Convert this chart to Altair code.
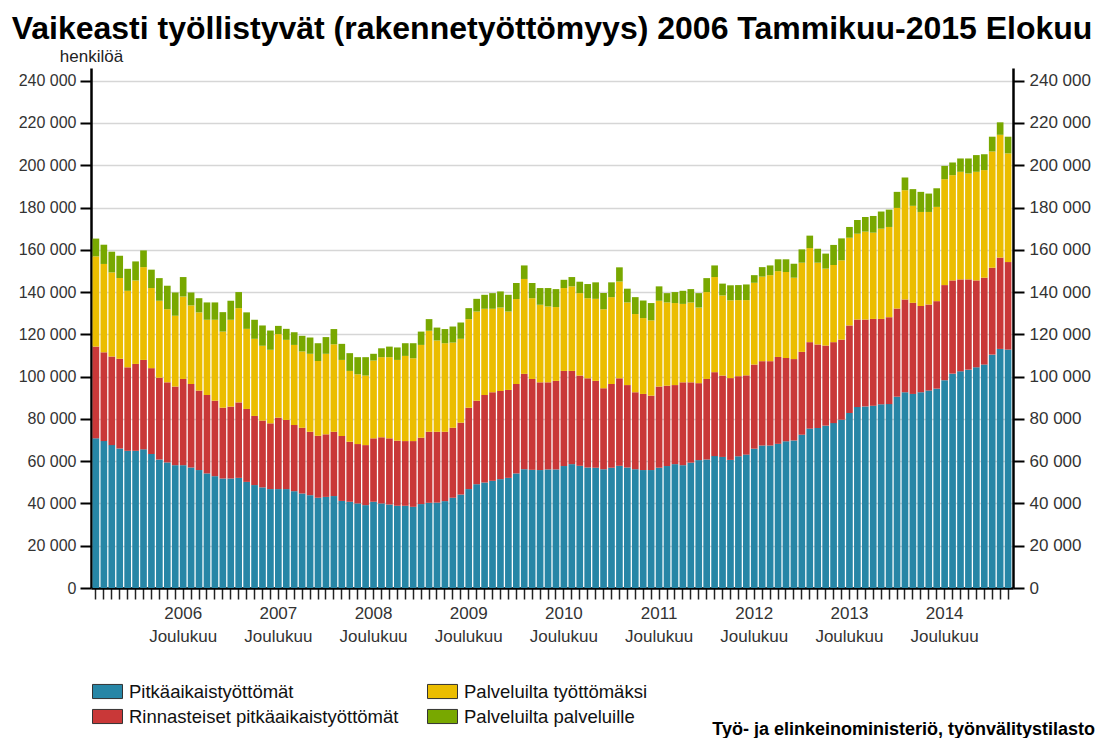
import altair as alt
import pandas as pd

title_text = "Vaikeasti työllistyvät (rakennetyöttömyys) 2006 Tammikuu-2015 Elokuu"
source_text = "Työ- ja elinkeinoministeriö, työnvälitystilasto"
y_unit = "henkilöä"
month_label = "Joulukuu"
start_year = 2006

series_names = ["Pitkäaikaistyöttömät", "Rinnasteiset pitkäaikaistyöttömät",
                "Palveluilta työttömäksi", "Palveluilta palveluille"]
series_colors = ["#2786A6", "#C93838", "#EBBD00", "#78A800"]

y_ticks = [0, 20000, 40000, 60000, 80000, 100000, 120000, 140000, 160000,
           180000, 200000, 220000, 240000]

# Monthly values, 2006 Tammikuu .. 2015 Elokuu (116 months)
pitka = [70800, 69500, 67600, 66000, 64900, 64900, 65600, 63400, 60800, 59400, 58100, 58100,
         57000, 55800, 54200, 52900, 51800, 51800, 52100, 50200, 48700, 47600, 46800, 46800,
         46800, 45800, 44700, 43900, 42700, 43100, 43500, 41200, 40800, 40000, 39200, 40800,
         40000, 39500, 38900, 38900, 38400, 39700, 40300, 40400, 41100, 42700, 44200, 46800,
         49100, 49900, 50700, 51500, 52100, 54200, 56200, 55900, 55800, 56100, 56100, 57700,
         58600, 57800, 57000, 56900, 56200, 56900, 57800, 57000, 56200, 55800, 55800, 56900,
         57700, 58600, 58100, 59300, 60500, 60800, 62400, 62000, 60600, 62300, 63100, 65900,
         67400, 67400, 68200, 69400, 69800, 72500, 75400, 75700, 76800, 78000, 79600, 82800,
         85600, 85900, 86200, 86900, 87000, 90500, 92600, 91800, 92600, 93400, 94300, 98300,
         101400, 102500, 103300, 104400, 105700, 110400, 113100, 112800]

rinnast = [43400, 42000, 41900, 42400, 39500, 41100, 42300, 40600, 38700, 37900, 37200, 40800,
           39500, 37600, 37100, 35700, 33500, 34000, 35700, 34500, 32700, 31600, 31100, 33800,
           32700, 31300, 31100, 30000, 29300, 29600, 30400, 30700, 28400, 28100, 28400, 30000,
           31300, 31300, 30800, 30600, 31100, 31400, 33600, 33500, 32800, 33100, 34000, 38500,
           39500, 41400, 41900, 41700, 41600, 42300, 45100, 43000, 41500, 41200, 41900, 45000,
           44100, 42700, 42200, 41100, 38300, 39600, 41400, 39000, 36400, 36000, 35200, 38400,
           38000, 37400, 39200, 38000, 36400, 38100, 39700, 38500, 38700, 37900, 37500, 39800,
           39900, 39900, 41100, 39400, 38500, 39200, 40900, 39500, 37900, 38300, 37900, 41400,
           41400, 41100, 41100, 40400, 41100, 41700, 43900, 43100, 40800, 40700, 41400, 45000,
           44100, 43500, 42700, 41100, 41100, 41100, 43200, 41400]

tyottomaksi = [42700, 41800, 39800, 38200, 36200, 39500, 43900, 37900, 36400, 34600, 33500, 39000,
               37200, 37000, 35600, 38300, 36000, 41100, 44600, 37900, 36500, 35400, 34800, 39500,
               37900, 37900, 36100, 36900, 35400, 38100, 41400, 36000, 33500, 33000, 32900, 36800,
               37900, 38400, 38200, 40300, 39200, 43900, 47800, 43200, 41900, 40300, 39700, 41900,
               42200, 40800, 39500, 39500, 37100, 40200, 44900, 38200, 36700, 35900, 34900, 39200,
               40000, 39000, 37900, 38800, 37400, 41100, 45800, 39100, 37000, 35900, 35600, 40600,
               39400, 38800, 37100, 37800, 35800, 41100, 45000, 37900, 36800, 36000, 35600, 38700,
               40000, 40700, 40600, 40700, 38500, 42200, 44500, 38700, 36400, 36500, 37500, 41500,
               40600, 41600, 40800, 42700, 42700, 47600, 51700, 45900, 44500, 43800, 44600, 50100,
               49800, 50900, 50100, 51400, 50900, 55000, 58100, 51400]

palveluille = [8400, 9100, 9800, 10600, 10400, 9000, 7900, 8700, 10700, 11100, 11000, 9200,
               6100, 6700, 8200, 8200, 9200, 9000, 7600, 7800, 9000, 9600, 9100, 3900,
               5200, 6000, 7400, 7700, 8400, 7900, 7200, 7600, 8400, 8100, 8700, 3200,
               4200, 5000, 5900, 6000, 7100, 6300, 5500, 6100, 6700, 7600, 7700, 5200,
               6000, 6600, 7400, 7600, 7900, 7600, 6400, 7200, 7900, 8700, 8500, 3900,
               4400, 5400, 6700, 7800, 7600, 7000, 6700, 6500, 8000, 8300, 8200, 6800,
               4400, 5200, 6200, 6300, 6800, 6600, 5500, 5600, 7100, 7100, 7400, 3600,
               4500, 4600, 5600, 6000, 6600, 6300, 5900, 6600, 7100, 9500, 10400, 5100,
               6500, 6900, 7900, 8100, 8200, 7600, 6000, 7900, 9500, 8700, 8800, 6300,
               6000, 6300, 7100, 7900, 7500, 7000, 5900, 7900]

all_series = [pitka, rinnast, tyottomaksi, palveluille]

rows = []
for k, (name, vals) in enumerate(zip(series_names, all_series)):
    for m, v in enumerate(vals):
        rows.append({"m": m, "series": name, "value": v, "k": k})
df = pd.DataFrame(rows)

# legend laid out in 2 columns (row-major), so reorder
legend_order = [series_names[0], series_names[2], series_names[1], series_names[3]]
legend_colors = [series_colors[0], series_colors[2], series_colors[1], series_colors[3]]

W, H = 922, 520
Y_MAX = 246000
label_expr_y = "replace(format(datum.value, ','), ',', ' ')"
label_expr_x = ("datum.value % 12 == 11 ? ['' + (" + str(start_year)
                + " + floor(datum.value / 12)), '" + month_label + "'] : ''")

y_scale = alt.Scale(domain=[0, Y_MAX], nice=False)

bars = alt.Chart(df).mark_bar().encode(
    x=alt.X("m:O", title=None,
            scale=alt.Scale(paddingInner=0.16, paddingOuter=0.2),
            axis=alt.Axis(labelExpr=label_expr_x, labelAngle=0, tickSize=11,
                          tickWidth=1.5, tickColor="#222", domainColor="black",
                          domainWidth=2.5, labelFontSize=17, labelLineHeight=23,
                          labelPadding=6, labelOverlap=False, labelBound=False,
                          labelFlush=False, labelColor="#333", grid=False)),
    y=alt.Y("value:Q", stack="zero", scale=y_scale,
            axis=alt.Axis(values=y_ticks, labelExpr=label_expr_y, title=y_unit,
                          titleAngle=0, titleX=0, titleY=-3, titleAlign="center",
                          titleBaseline="bottom", titleFontWeight="normal",
                          titleFontSize=17, titleColor="#222",
                          grid=True, gridColor="#d6d6d6", gridWidth=1.5,
                          tickSize=11, tickWidth=2, tickColor="black",
                          domainColor="black", domainWidth=2.5,
                          labelFontSize=16, labelColor="#333", labelPadding=4)),
    color=alt.Color("series:N",
                    scale=alt.Scale(domain=legend_order, range=legend_colors),
                    legend=alt.Legend(title=None, orient="none", legendX=1, legendY=608,
                                      direction="horizontal", columns=2,
                                      symbolType="M-1,-0.47L1,-0.47L1,0.47L-1,0.47Z",
                                      symbolSize=900, symbolStrokeColor="#333",
                                      symbolStrokeWidth=1, symbolOpacity=1,
                                      labelFontSize=18.5, labelColor="#111",
                                      labelOffset=6, columnPadding=26, rowPadding=-3,
                                      labelLimit=400)),
    order=alt.Order("k:Q", sort="ascending"),
)

right_axis = alt.Chart(pd.DataFrame({"v": y_ticks})).mark_point(opacity=0).encode(
    y=alt.Y("v:Q", scale=y_scale,
            axis=alt.Axis(orient="right", values=y_ticks, labelExpr=label_expr_y,
                          title=None, grid=False, tickSize=11, tickWidth=2,
                          tickColor="black", domainColor="black", domainWidth=2.5,
                          labelFontSize=17, labelColor="#333", labelPadding=5)),
)

source = alt.Chart(pd.DataFrame({"t": [source_text]})).mark_text(
    align="right", baseline="middle", fontSize=18, fontWeight="bold", color="black"
).encode(text="t:N", x=alt.value(1004), y=alt.value(662))

chart = alt.layer(bars, right_axis, source).resolve_axis(y="independent").properties(
    width=W, height=H,
    title=alt.TitleParams(title_text, fontSize=32, fontWeight="bold", anchor="middle",
                          frame="group", offset=1, color="black"),
    autosize=alt.AutoSizeParams(type="none"),
    padding={"left": 83, "top": 60, "right": 86, "bottom": 150},
).configure(font="Liberation Sans").configure_view(stroke=None)

chart.save("out.html", embed_options={"renderer": "svg", "actions": False})
